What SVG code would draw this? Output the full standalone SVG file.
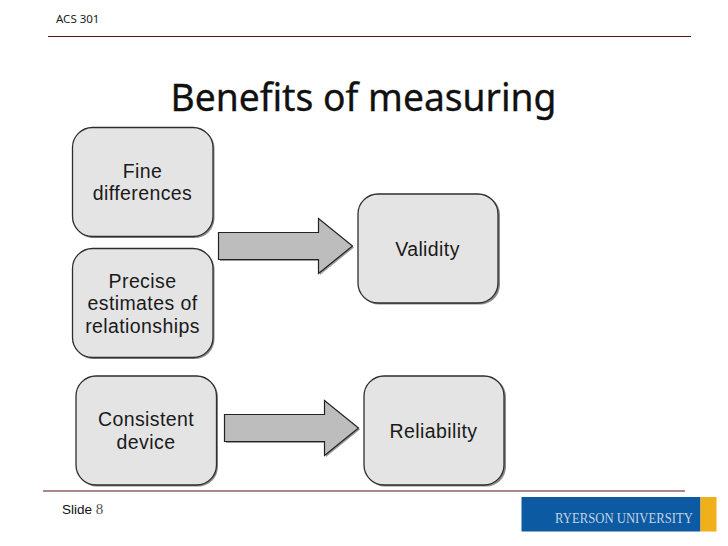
<svg xmlns="http://www.w3.org/2000/svg" width="728" height="546" viewBox="0 0 728 546">
<style>
.box{fill:#e4e4e4;stroke:#2e2e2e;stroke-width:1.3}
.shadow{fill:#8a8a8a}
.arrow{fill:#bdbdbd;stroke:#222;stroke-width:1.2;stroke-linejoin:miter}
.arrowshadow{fill:#9a9a9a}
.t{font-family:"Liberation Sans",Arial,sans-serif;font-size:19.5px;letter-spacing:.4px;fill:#1a1a1a;text-anchor:middle}
.rule{stroke:#5a1414;stroke-width:1.2}
</style>
<rect width="728" height="546" fill="#fff"/>
<g id="header">
<text x="56" y="23" font-family="'Noto Sans',sans-serif" font-size="11.5" fill="#222">ACS 301</text>
<line class="rule" x1="48" y1="36.5" x2="691" y2="36.5"/>
</g>
<text id="title" x="363.5" y="111" font-family="'Noto Sans',sans-serif" font-size="39" fill="#111" stroke="#111" stroke-width=".35" text-anchor="middle" textLength="386" lengthAdjust="spacingAndGlyphs">Benefits of measuring</text>
<g id="connectors">
<path class="arrowshadow" d="M220 234H320V220L354 247.500L320 275V261H220Z"/>
<path class="arrow" d="M218.500 232.500H318.500V218.500L352.500 246L318.500 273.500V259.500H218.500Z"/>
<path class="arrowshadow" d="M226 416H326V402L360 429.500L326 457V443H226Z"/>
<path class="arrow" d="M224.500 414.500H324.500V400.500L358.500 428L324.500 455.500V441.500H224.500Z"/>
</g>
<g id="node-fine">
<rect class="shadow" x="73.500" y="128.500" width="141" height="109.500" rx="20"/>
<rect class="box" x="72.500" y="127.500" width="140.500" height="109" rx="20"/>
<text class="t" x="142.500" y="178">Fine</text>
<text class="t" x="142.500" y="200">differences</text>
</g>
<g id="node-precise">
<rect class="shadow" x="73.500" y="249.500" width="141" height="109.500" rx="20"/>
<rect class="box" x="72.500" y="248.500" width="140.500" height="109" rx="20"/>
<text class="t" x="142.500" y="288">Precise</text>
<text class="t" x="142.500" y="310">estimates of</text>
<text class="t" x="142.500" y="333">relationships</text>
</g>
<g id="node-consistent">
<rect class="shadow" x="77" y="377" width="141" height="109.500" rx="20"/>
<rect class="box" x="76" y="376" width="140.500" height="109" rx="20"/>
<text class="t" x="146" y="426">Consistent</text>
<text class="t" x="146" y="449">device</text>
</g>
<g id="node-validity">
<rect class="shadow" x="359" y="195" width="141" height="109.500" rx="20"/>
<rect class="box" x="358" y="194" width="140" height="109" rx="20"/>
<text class="t" x="427.500" y="256">Validity</text>
</g>
<g id="node-reliability">
<rect class="shadow" x="365" y="377" width="141" height="109.500" rx="20"/>
<rect class="box" x="364" y="376" width="140" height="109" rx="20"/>
<text class="t" x="433.500" y="438">Reliability</text>
</g>
<g id="footer">
<line class="rule" x1="43" y1="491" x2="685" y2="491"/>
<text x="62" y="514" font-family="'Liberation Sans',sans-serif" font-size="13.500" fill="#111">Slide <tspan font-family="'Liberation Serif',serif" fill="#555" font-size="15">8</tspan></text>
</g>
<g id="logo">
<rect x="521.500" y="497" width="179" height="34.500" fill="#0b5aa2"/>
<rect x="700.500" y="497" width="16" height="34.500" fill="#efb019"/>
<text x="555" y="523" font-family="'Liberation Serif',serif" font-size="15" fill="#c3d3e6" textLength="138" lengthAdjust="spacingAndGlyphs">RYERSON UNIVERSITY</text>
</g>
</svg>
